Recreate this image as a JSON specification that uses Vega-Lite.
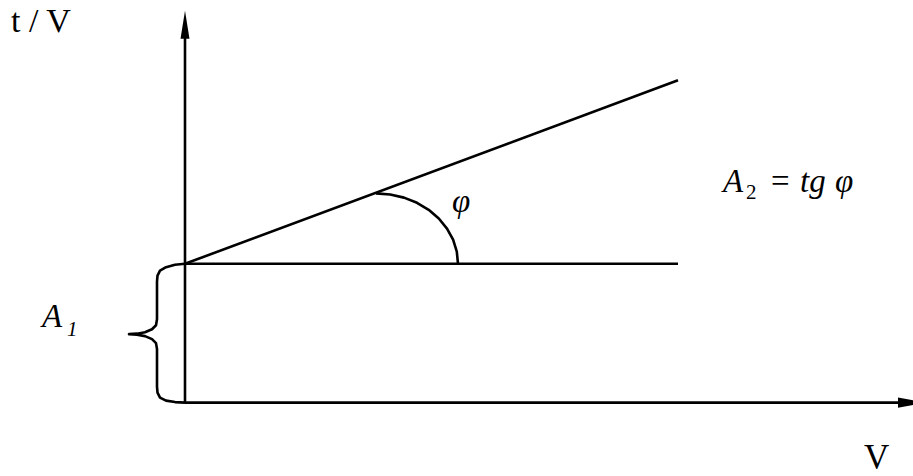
{
  "$schema": "https://vega.github.io/schema/vega-lite/v6.json",
  "width": 913,
  "height": 476,
  "autosize": {"type": "fit", "contains": "padding"},
  "padding": 0,
  "background": "white",
  "config": {"view": {"stroke": null}, "text": {"font": "'Liberation Serif', 'Times New Roman', 'DejaVu Serif', serif"}},
  "datasets": {
    "paths": [
      {"id": "yaxis", "ord": 0, "x": 0, "y": 0},
      {"id": "yaxis", "ord": 1, "x": 0, "y": 380},
      {"id": "xaxis", "ord": 0, "x": 0, "y": 0},
      {"id": "xaxis", "ord": 1, "x": 720, "y": 0},
      {"id": "slope", "ord": 0, "x": 0, "y": 140},
      {"id": "slope", "ord": 1, "x": 493, "y": 325},
      {"id": "flat", "ord": 0, "x": 0, "y": 140},
      {"id": "flat", "ord": 1, "x": 493, "y": 140},
      {"id": "arc", "ord": 0, "x": 191, "y": 211},
      {"id": "arc", "ord": 1, "x": 205.2, "y": 209.9},
      {"id": "arc", "ord": 2, "x": 219.0, "y": 206.7},
      {"id": "arc", "ord": 3, "x": 232.0, "y": 201.5},
      {"id": "arc", "ord": 4, "x": 243.7, "y": 194.4},
      {"id": "arc", "ord": 5, "x": 253.8, "y": 185.6},
      {"id": "arc", "ord": 6, "x": 262.0, "y": 175.5},
      {"id": "arc", "ord": 7, "x": 268.1, "y": 164.3},
      {"id": "arc", "ord": 8, "x": 271.8, "y": 152.3},
      {"id": "arc", "ord": 9, "x": 273, "y": 140},
      {"id": "brace", "ord": 0, "x": 0, "y": 140},
      {"id": "brace", "ord": 1, "x": -10, "y": 139},
      {"id": "brace", "ord": 2, "x": -19, "y": 136.5},
      {"id": "brace", "ord": 3, "x": -25, "y": 133},
      {"id": "brace", "ord": 4, "x": -27.5, "y": 128},
      {"id": "brace", "ord": 5, "x": -28, "y": 122},
      {"id": "brace", "ord": 6, "x": -28, "y": 84},
      {"id": "brace", "ord": 7, "x": -29, "y": 78},
      {"id": "brace", "ord": 8, "x": -33, "y": 74},
      {"id": "brace", "ord": 9, "x": -40, "y": 71},
      {"id": "brace", "ord": 10, "x": -48, "y": 69.5},
      {"id": "brace", "ord": 11, "x": -56, "y": 69},
      {"id": "brace", "ord": 12, "x": -48, "y": 68.5},
      {"id": "brace", "ord": 13, "x": -40, "y": 67},
      {"id": "brace", "ord": 14, "x": -33, "y": 64},
      {"id": "brace", "ord": 15, "x": -29, "y": 60},
      {"id": "brace", "ord": 16, "x": -28, "y": 54},
      {"id": "brace", "ord": 17, "x": -28, "y": 16},
      {"id": "brace", "ord": 18, "x": -27.5, "y": 10},
      {"id": "brace", "ord": 19, "x": -25, "y": 5},
      {"id": "brace", "ord": 20, "x": -19, "y": 2},
      {"id": "brace", "ord": 21, "x": -10, "y": 0.5},
      {"id": "brace", "ord": 22, "x": 0, "y": 0}
    ],
    "labels": [
      {"kind": "title", "x": -174, "y": 374, "text": "t / V"},
      {"kind": "xlabel", "x": 679, "y": -67, "text": "V"},
      {"kind": "italic", "x": -143, "y": 76, "text": "A"},
      {"kind": "subitalic", "x": -118, "y": 67, "text": "1"},
      {"kind": "italic", "x": 538, "y": 212, "text": "A"},
      {"kind": "sub", "x": 561, "y": 205, "text": "2"},
      {"kind": "upright", "x": 586, "y": 212, "text": "="},
      {"kind": "italic", "x": 615, "y": 212, "text": "tg"},
      {"kind": "italic", "x": 650, "y": 212, "text": "φ"},
      {"kind": "italic", "x": 267, "y": 192, "text": "φ"}
    ],
    "arrows": [
      {"dir": "up", "x": 0, "y": 381},
      {"dir": "right", "x": 727, "y": 0}
    ]
  },
  "encoding": {
    "x": {"field": "x", "type": "quantitative", "scale": {"domain": [-185, 728], "nice": false, "zero": false}, "axis": null},
    "y": {"field": "y", "type": "quantitative", "scale": {"domain": [-70, 406], "nice": false, "zero": false}, "axis": null}
  },
  "layer": [
    {
      "data": {"name": "paths"},
      "mark": {"type": "line", "color": "black", "strokeWidth": 2.6, "strokeCap": "butt", "strokeJoin": "round"},
      "encoding": {
        "detail": {"field": "id", "type": "nominal"},
        "order": {"field": "ord", "type": "quantitative"}
      }
    },
    {
      "data": {"name": "arrows"},
      "transform": [{"filter": "datum.dir === 'up'"}],
      "mark": {"type": "point", "filled": true, "color": "black", "opacity": 1, "size": 784, "shape": "M0,-1L0.32,1L-0.32,1Z", "strokeWidth": 0}
    },
    {
      "data": {"name": "arrows"},
      "transform": [{"filter": "datum.dir === 'right'"}],
      "mark": {"type": "point", "filled": true, "color": "black", "opacity": 1, "size": 784, "shape": "M1,0L-1,-0.36L-1,0.36Z", "strokeWidth": 0, "clip": true}
    },
    {
      "data": {"name": "labels"},
      "transform": [{"filter": "datum.kind === 'title'"}],
      "mark": {"type": "text", "align": "left", "baseline": "alphabetic", "fontSize": 34, "color": "black"},
      "encoding": {"text": {"field": "text"}}
    },
    {
      "data": {"name": "labels"},
      "transform": [{"filter": "datum.kind === 'xlabel'"}],
      "mark": {"type": "text", "align": "left", "baseline": "alphabetic", "fontSize": 35, "color": "black"},
      "encoding": {"text": {"field": "text"}}
    },
    {
      "data": {"name": "labels"},
      "transform": [{"filter": "datum.kind === 'italic'"}],
      "mark": {"type": "text", "align": "left", "baseline": "alphabetic", "fontStyle": "italic", "fontSize": 33, "color": "black"},
      "encoding": {"text": {"field": "text"}}
    },
    {
      "data": {"name": "labels"},
      "transform": [{"filter": "datum.kind === 'upright'"}],
      "mark": {"type": "text", "align": "left", "baseline": "alphabetic", "fontSize": 33, "color": "black"},
      "encoding": {"text": {"field": "text"}}
    },
    {
      "data": {"name": "labels"},
      "transform": [{"filter": "datum.kind === 'subitalic'"}],
      "mark": {"type": "text", "align": "left", "baseline": "alphabetic", "fontStyle": "italic", "fontSize": 21, "color": "black"},
      "encoding": {"text": {"field": "text"}}
    },
    {
      "data": {"name": "labels"},
      "transform": [{"filter": "datum.kind === 'sub'"}],
      "mark": {"type": "text", "align": "left", "baseline": "alphabetic", "fontSize": 21, "color": "black"},
      "encoding": {"text": {"field": "text"}}
    }
  ]
}
